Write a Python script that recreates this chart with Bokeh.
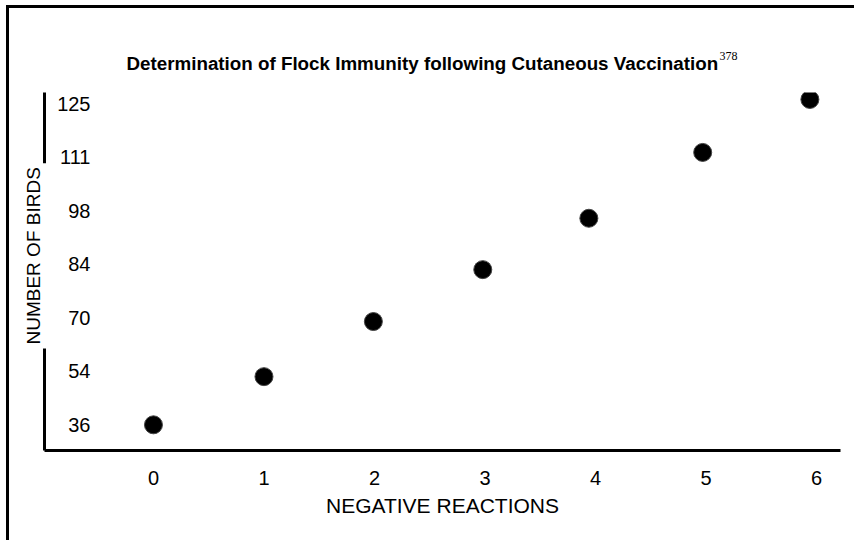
from bokeh.plotting import figure
from bokeh.models import Range1d, FixedTicker, Title
from bokeh.embed import file_html
from bokeh.resources import INLINE

# ---- data ----
negative_reactions = [0.0, 1.0, 1.99, 2.98, 3.94, 4.97, 5.94]
# position of each point on the (evenly spaced) bird-count scale, in tick steps
bird_scale_position = [0.0, 0.90, 1.93, 2.90, 3.86, 5.09, 6.08]
bird_tick_labels = ["36", "54", "70", "84", "98", "111", "125"]
x_ticks = [0, 1, 2, 3, 4, 5, 6]
title_text = "Determination of Flock Immunity following Cutaneous Vaccination"
title_ref = "378"
x_title = "NEGATIVE REACTIONS"
y_title = "NUMBER OF BIRDS"

p = figure(width=848, height=535, output_backend="svg", toolbar_location=None,
           x_range=Range1d(-0.986, 6.217), y_range=Range1d(-0.48, 6.21),
           min_border_left=35, min_border_right=17, min_border_top=84,
           min_border_bottom=93)
p.styles = {"border-top": "3px solid black", "border-left": "3px solid black",
            "margin-left": "6px", "margin-top": "5px"}
p.title = None

p.background_fill_color = "white"
p.border_fill_color = "white"
p.outline_line_color = None
p.grid.visible = False

p.scatter(negative_reactions, bird_scale_position, size=18,
          fill_color="black", line_color="#444444", line_width=1)

# title (inner panel) and its superscript reference (outer panel, pulled down)
main_title = Title(text=title_text, align="left", offset=82, standoff=38,
                   text_font="Liberation Sans", text_font_size="18.8px",
                   text_font_style="bold", text_color="black")
p.add_layout(main_title, "above")
sup = Title(text=title_ref, align="left", offset=675, standoff=-57,
            text_font="Liberation Serif", text_font_size="12px",
            text_font_style="normal", text_color="black")
p.add_layout(sup, "above")

# x axis
xa = p.xaxis[0]
xa.ticker = FixedTicker(ticks=x_ticks)
xa.axis_line_width = 3
xa.axis_line_color = "black"
xa.major_tick_line_color = None
xa.minor_tick_line_color = None
xa.major_tick_out = 0
xa.major_tick_in = 0
xa.major_label_standoff = 20
xa.major_label_text_font = "Liberation Sans"
xa.major_label_text_font_size = "20px"
xa.major_label_text_color = "black"
xa.axis_label = x_title
xa.axis_label_text_font = "Liberation Sans"
xa.axis_label_text_font_size = "21px"
xa.axis_label_text_font_style = "normal"
xa.axis_label_text_color = "black"
xa.axis_label_standoff = 6

# y axis (labels drawn inside the frame)
ya = p.yaxis[0]
ya.ticker = FixedTicker(ticks=list(range(len(bird_tick_labels))))
ya.major_label_overrides = {i: lab for i, lab in enumerate(bird_tick_labels)}
ya.axis_line_width = 3
ya.axis_line_color = "black"
ya.major_tick_line_color = None
ya.minor_tick_line_color = None
ya.major_tick_out = 0
ya.major_tick_in = 0
ya.major_label_standoff = -46
ya.major_label_text_font = "Liberation Sans"
ya.major_label_text_font_size = "20px"
ya.major_label_text_color = "black"

# y title on the left, its white box breaking the axis line
ytitle = Title(text=y_title, align="left", offset=102, standoff=-6,
               text_font="Liberation Sans", text_font_size="19px",
               text_font_style="normal", text_color="black",
               background_fill_color="white", padding=4)
p.add_layout(ytitle, "left")

open("out.html", "w").write(file_html(p, INLINE))
